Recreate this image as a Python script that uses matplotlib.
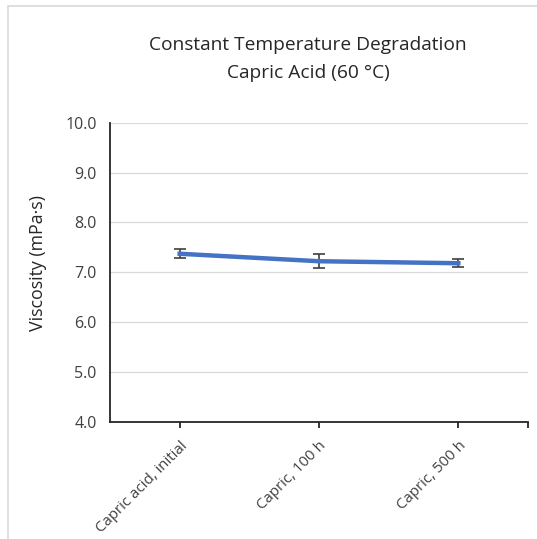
import matplotlib
matplotlib.use("Agg")
import matplotlib.pyplot as plt
from matplotlib.patches import Rectangle

categories = ["Capric acid, initial", "Capric, 100 h", "Capric, 500 h"]
viscosity = [7.37, 7.22, 7.18]
errors = [0.09, 0.14, 0.08]
yticks = [4.0, 5.0, 6.0, 7.0, 8.0, 9.0, 10.0]

plt.rcParams['font.family'] = ['Open Sans', 'DejaVu Sans']

W, H = 537, 539
fig = plt.figure(figsize=(W/100, H/100), dpi=100)

# outer light border
fig.patches.append(Rectangle((8/W, -0.1), 1.2, 1 - 6/H + 0.1, transform=fig.transFigure,
                             fill=False, edgecolor='#d9d9d9', linewidth=1.2))

ax = fig.add_axes([110/W, 1 - 421.7/H, (528 - 110)/W, (421.7 - 122.7)/H])
x = list(range(len(categories)))
ax.errorbar(x, viscosity, yerr=errors, color='#4472C4', linewidth=3.2,
            ecolor='#404040', elinewidth=1.2, capsize=4, capthick=1.2, zorder=3)

ax.set_xlim(-0.5, len(categories) - 0.5)
ax.set_ylim(4.0, 10.0)
ax.set_yticks(yticks)
ax.set_yticklabels([f"{v:.1f}" for v in yticks], fontsize=11.5, color='#404040')
ax.set_xticks(x)
ax.set_xticklabels(categories, rotation=45, ha='right', va='top', rotation_mode='anchor',
                   fontsize=10.8, color='#404040')
ax.set_xticks([len(categories) - 0.5], minor=True)
ax.tick_params(axis='x', which='both', length=4, width=1.3, color='#262626', pad=8)
ax.tick_params(axis='y', length=0, pad=9.5)
ax.grid(axis='y', color='#d9d9d9', linewidth=0.9)
ax.set_axisbelow(True)
for s in ['top', 'right']:
    ax.spines[s].set_visible(False)
for s in ['left', 'bottom']:
    ax.spines[s].set_color('#262626')
    ax.spines[s].set_linewidth(1.3)

fig.text(308/W, 1 - 45/H, "Constant Temperature Degradation", ha='center', va='center',
         fontsize=13.8, color='#262626')
fig.text(308/W, 1 - 73/H, "Capric Acid (60 °C)", ha='center', va='center',
         fontsize=13.8, color='#262626')
fig.text(38/W, 1 - 263/H, "Viscosity (mPa·s)", ha='center', va='center', rotation=90,
         fontsize=12.8, color='#262626')

fig.savefig("out.png", dpi=100)
